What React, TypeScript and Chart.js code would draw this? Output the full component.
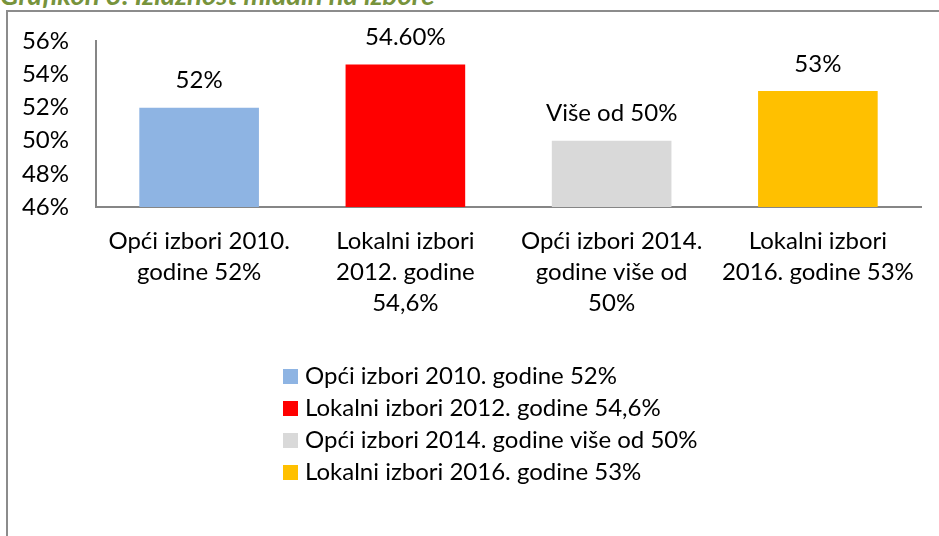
import React, { useEffect, useRef } from "react";
import { Chart, registerables } from "chart.js";

Chart.register(...registerables);

const categories: string[][] = [
  ["Opći izbori 2010.", "godine 52%"],
  ["Lokalni izbori", "2012. godine", "54,6%"],
  ["Opći izbori 2014.", "godine više od", "50%"],
  ["Lokalni izbori", "2016. godine 53%"],
];
const legendLabels: string[] = [
  "Opći izbori 2010. godine 52%",
  "Lokalni izbori 2012. godine 54,6%",
  "Opći izbori 2014. godine više od 50%",
  "Lokalni izbori 2016. godine 53%",
];
const values: number[] = [52, 54.6, 50, 53];
const valueLabels: string[] = ["52%", "54.60%", "Više od 50%", "53%"];
const barColors: string[] = ["#8EB4E3", "#FF0000", "#D9D9D9", "#FFC000"];
const yMin = 46;
const yMax = 56;
const yStep = 2;

const FONT = "Lato";
const FONT_SIZE = 24;

const valueLabelPlugin = {
  id: "valueLabels",
  afterDatasetsDraw(chart: any) {
    const ctx = chart.ctx;
    const meta = chart.getDatasetMeta(0);
    ctx.save();
    ctx.font = `${FONT_SIZE}px ${FONT}`;
    ctx.fillStyle = "#000";
    ctx.textAlign = "center";
    ctx.textBaseline = "middle";
    meta.data.forEach((bar: any, i: number) => {
      ctx.fillText(valueLabels[i], bar.x, bar.y - 27);
    });
    ctx.restore();
  },
};

const legendPlugin = {
  id: "vertLegend",
  afterDraw(chart: any) {
    const ctx = chart.ctx;
    ctx.save();
    ctx.font = `${FONT_SIZE}px ${FONT}`;
    ctx.textBaseline = "middle";
    ctx.textAlign = "left";
    legendLabels.forEach((lab, i) => {
      const cy = 376 + i * 32;
      ctx.fillStyle = barColors[i];
      ctx.fillRect(283, cy - 7, 15, 15);
      ctx.fillStyle = "#000";
      ctx.fillText(lab, 305, cy);
    });
    ctx.restore();
  },
};

export default function App() {
  const ref = useRef<HTMLCanvasElement | null>(null);
  useEffect(() => {
    if (!ref.current) return;
    const chart = new Chart(ref.current, {
      type: "bar",
      data: {
        labels: categories,
        datasets: [
          {
            data: values,
            backgroundColor: barColors,
            borderWidth: 0,
            categoryPercentage: 1,
            barPercentage: 0.58,
          },
        ],
      },
      options: {
        animation: false,
        responsive: false,
        devicePixelRatio: 1,
        layout: { padding: { top: 40, right: 18, left: 0, bottom: 0 } },
        plugins: {
          legend: { display: false },
          tooltip: { enabled: false },
          title: { display: false },
        },
        scales: {
          x: {
            grid: { display: false, drawTicks: false },
            border: { display: true, color: "#868686", width: 2 },
            ticks: {
              color: "#000",
              font: { family: FONT, size: FONT_SIZE, lineHeight: "31px" },
              padding: 19,
              maxRotation: 0,
              autoSkip: false,
            },
            afterFit: (scale: any) => {
              scale.height = 329;
            },
          },
          y: {
            min: yMin,
            max: yMax,
            grid: { display: false, drawTicks: false },
            border: { display: true, color: "#868686", width: 2 },
            ticks: {
              stepSize: yStep,
              color: "#000",
              padding: 27,
              font: { family: FONT, size: FONT_SIZE },
              callback: (v: any) => `${v}%`,
            },
            afterFit: (scale: any) => {
              scale.width = 96;
            },
          },
        },
      },
      plugins: [valueLabelPlugin, legendPlugin],
    });
    return () => chart.destroy();
  }, []);

  return (
    <div style={{ position: "absolute", left: 0, top: 0, width: 939, height: 536, overflow: "hidden", background: "#fff" }}>
      <div
        style={{
          position: "absolute",
          left: 0,
          top: -21,
          fontFamily: FONT,
          fontWeight: "bold",
          fontStyle: "italic",
          fontSize: 27.5,
          color: "#77933C",
          whiteSpace: "nowrap",
          lineHeight: "32px",
        }}
      >
        Grafikon 3: Izlaznost mladih na izbore
      </div>
      <div
        style={{
          position: "absolute",
          left: 6,
          top: 10,
          width: 1000,
          height: 600,
          borderLeft: "2px solid #8C8C8C",
          borderTop: "2px solid #8C8C8C",
        }}
      />
      <canvas ref={ref} width={939} height={536} style={{ position: "absolute", left: 0, top: 0, width: 939, height: 536 }} />
    </div>
  );
}
